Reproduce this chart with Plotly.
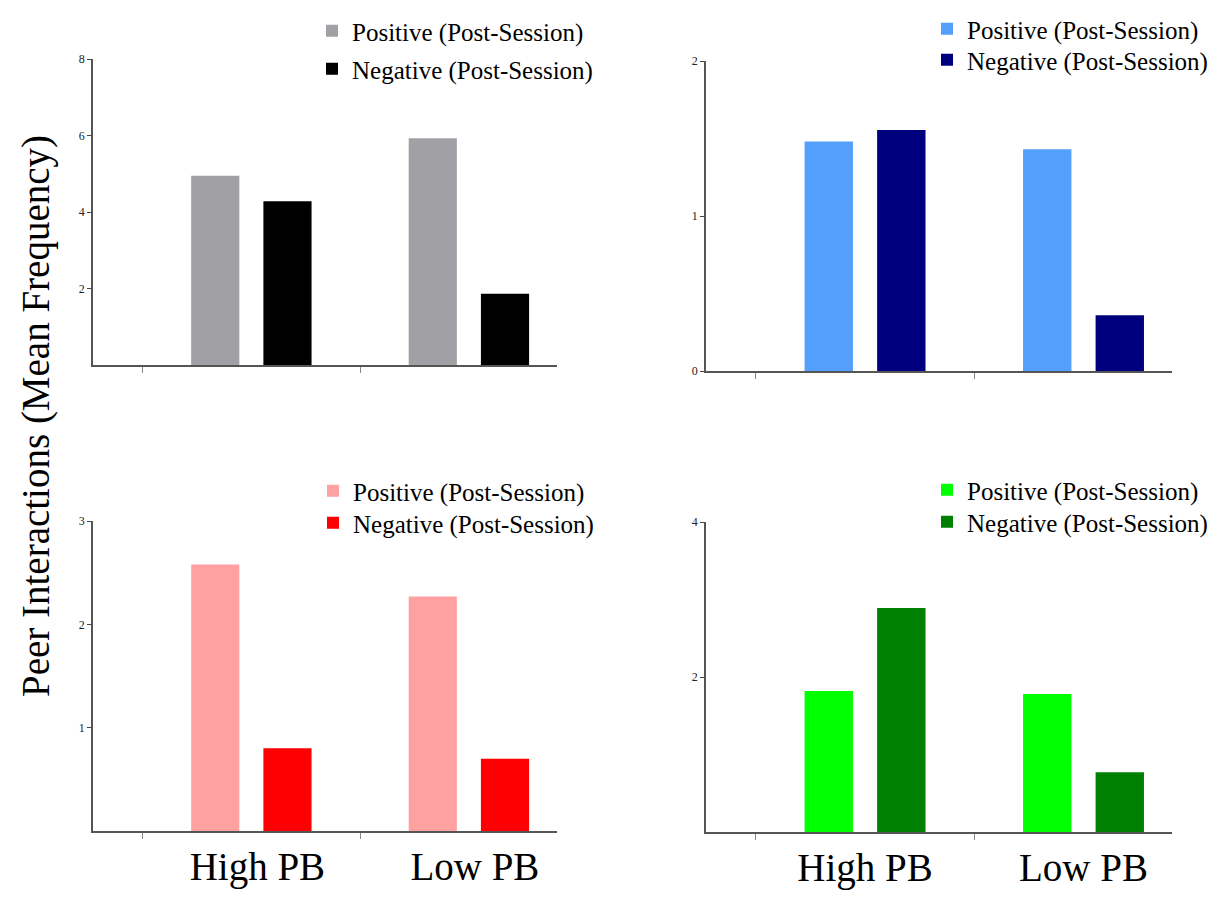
import plotly.graph_objects as go

categories = ["High PB", "Low PB"]
series_names = ["Positive (Post-Session)", "Negative (Post-Session)"]

tl_positive = [4.95, 5.93]
tl_negative = [4.28, 1.86]
tr_positive = [1.48, 1.43]
tr_negative = [1.555, 0.36]
bl_positive = [2.58, 2.27]
bl_negative = [0.80, 0.70]
br_positive = [1.82, 1.78]
br_negative = [2.89, 0.77]

tl_ticks = [2, 4, 6, 8]
tr_ticks = [0, 1, 2]
bl_ticks = [1, 2, 3]
br_ticks = [2, 4]

y_title = "Peer Interactions (Mean Frequency)"

FONT = "Liberation Serif"
W, H = 1225, 899

panels = [
    # values, colours, ticks, y range, x domain px, y domain px, legend x px, legend row tops px, label shift, show labels
    (tl_positive, tl_negative, ("#a1a1a5", "#000000"), tl_ticks, [0, 8], (93, 557), (59, 365), 312, (8, 46), 0, False),
    (tr_positive, tr_negative, ("#559ffc", "#00007f"), tr_ticks, [0, 2], (706, 1172), (61, 371), 927, (6, 37), 0, False),
    (bl_positive, bl_negative, ("#ffa1a1", "#ff0000"), bl_ticks, [0, 3], (93, 557), (521, 831), 313, (468, 500), 6, True),
    (br_positive, br_negative, ("#00ff00", "#007f00"), br_ticks, [0, 4], (706, 1172), (522, 832), 927, (467, 499), 0, True),
]

fig = go.Figure()
layout = {}
lcount = 0
for i, (pos, neg, cols, ticks, yr, xd, yd, lx, lys, shift, showx) in enumerate(panels):
    n = i + 1
    xa = "x" if n == 1 else f"x{n}"
    ya = "y" if n == 1 else f"y{n}"
    for j, (vals, col) in enumerate(zip((pos, neg), cols)):
        lcount += 1
        lg = "legend" if lcount == 1 else f"legend{lcount}"
        fig.add_trace(go.Bar(
            x=categories, y=vals, name=series_names[j],
            marker=dict(color=col, line=dict(width=0)),
            xaxis=xa, yaxis=ya, legend=lg,
            hoverinfo="y",
        ))
        layout[lg] = dict(
            x=lx / W, y=1 - lys[j] / H, xanchor="left", yanchor="top",
            bgcolor="rgba(0,0,0,0)",
            font=dict(family=FONT, size=25, color="#000000"),
        )
    xkey = "xaxis" if n == 1 else f"xaxis{n}"
    ykey = "yaxis" if n == 1 else f"yaxis{n}"
    layout[xkey] = dict(
        domain=[xd[0] / W, xd[1] / W], anchor=ya, type="category",
        range=[-0.728, 1.405], tickson="boundaries", ticks="outside",
        ticklen=6, tickcolor="#888888", tickwidth=1,
        showline=True, linecolor="#555555", linewidth=1.5,
        showgrid=False, zeroline=False, showticklabels=showx,
        tickfont=dict(family=FONT, size=39, color="#000000"),
        ticklabelshift=shift,
        automargin=False, fixedrange=True,
    )
    layout[ykey] = dict(
        domain=[1 - yd[1] / H, 1 - yd[0] / H], anchor=xa,
        range=yr, tickvals=ticks, ticks="outside", ticklen=4,
        tickcolor="#444444", showline=True, linecolor="#555555",
        linewidth=1.5, showgrid=False, zeroline=False,
        tickfont=dict(family=FONT, size=12, color="#222222"),
        automargin=False, fixedrange=True,
    )

fig.update_layout(
    width=W, height=H, margin=dict(l=0, r=0, t=0, b=0, autoexpand=False),
    paper_bgcolor="white", plot_bgcolor="white",
    barmode="group", bargap=0.336, bargroupgap=0.333,
    showlegend=True,
    **layout,
)
fig.add_annotation(
    text=y_title, xref="paper", yref="paper", x=36 / W, y=1 - 416 / H,
    showarrow=False, textangle=-90, xanchor="center", yanchor="middle",
    font=dict(family=FONT, size=39, color="#000000"),
)

fig.write_html("out.html", config={"displayModeBar": False},
               post_script="document.body.style.margin='0';")
